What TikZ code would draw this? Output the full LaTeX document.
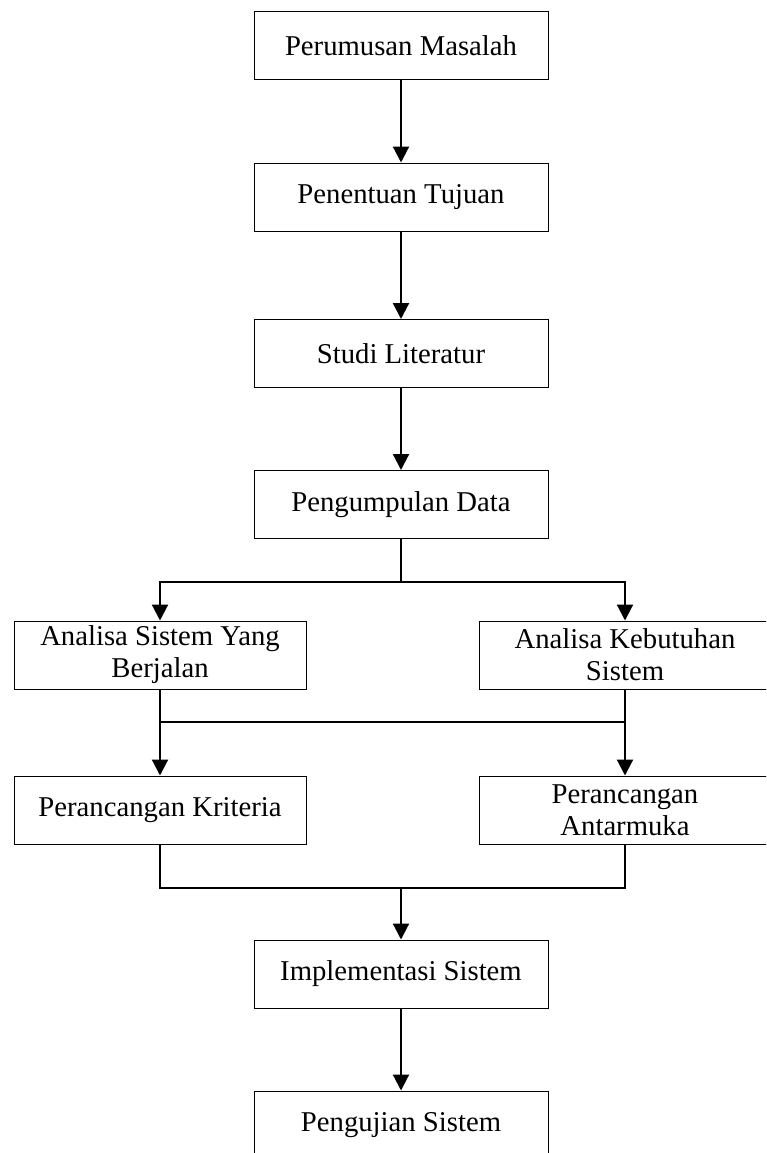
\documentclass[tikz,border=0pt]{standalone}
\usepackage{fontspec}
\setmainfont{Liberation Serif}
\usetikzlibrary{arrows.meta}
\tikzset{
  kotak/.style={draw, line width=1pt, minimum width=294pt, minimum height=68pt, inner sep=0pt, align=center,
    font=\fontsize{28.7}{32}\selectfont},
  kotaksisi/.style={kotak, minimum width=292pt},
  garis/.style={line width=1.4pt},
  panah/.style={line width=2.2pt, -{Triangle[width=16pt,length=16pt]}}
}
\begin{document}
\begin{tikzpicture}[x=1pt, y=-1pt]
  \useasboundingbox (0,0) rectangle (766,1153);
  \clip (0,0) rectangle (766,1153);
  \node[kotak] (rumusan) at (401,46) {Perumusan Masalah};
  \node[kotak] (tujuan) at (401,197) {Penentuan Tujuan};
  \node[kotak] (studi) at (401,353.5) {Studi Literatur};
  \node[kotak] (kumpul) at (401,504.5) {Pengumpulan Data};
  \node[kotaksisi] (anasis) at (160,655) {Analisa Sistem Yang\\Berjalan};
  \node[kotaksisi] (anabutuh) at (625,655) {Analisa Kebutuhan\\Sistem};
  \node[kotaksisi] (rankrit) at (160,810) {Perancangan Kriteria};
  \node[kotaksisi] (ranmuka) at (625,810) {Perancangan\\Antarmuka};
  \node[kotak] (impl) at (401,974) {Implementasi Sistem};
  \node[kotak] (uji) at (401,1125) {Pengujian Sistem};
  \coordinate (pecah) at (401,582);
  \coordinate (gabung) at (401,722);
  \coordinate (satu) at (401,888);
  \draw[panah] (rumusan) -- (tujuan);
  \draw[panah] (tujuan) -- (studi);
  \draw[panah] (studi) -- (kumpul);
  \draw[garis] (kumpul) -- (pecah);
  \draw[panah] (pecah) -| (anasis);
  \draw[panah] (pecah) -| (anabutuh);
  \draw[panah] (anasis) -- (rankrit);
  \draw[panah] (anabutuh) -- (ranmuka);
  \draw[garis] (anasis.south |- gabung) -- (anabutuh.south |- gabung);
  \draw[garis] (rankrit) |- (satu) -| (ranmuka);
  \draw[panah] (satu) -- (impl);
  \draw[panah] (impl) -- (uji);
\end{tikzpicture}
\end{document}
